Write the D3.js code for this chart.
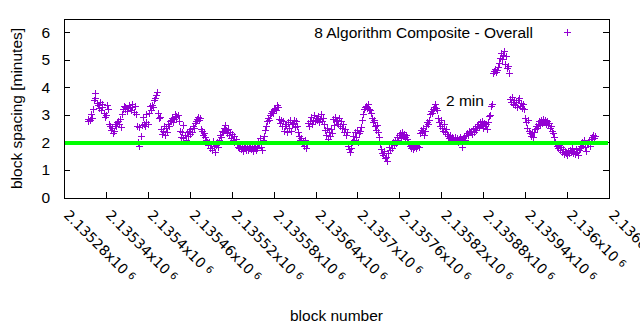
<!DOCTYPE html>
<html>
<head>
<meta charset="utf-8">
<script src="https://cdn.jsdelivr.net/npm/d3@7"></script>
<style>
  body { margin: 0; background: #fff; }
  svg text { font-family: "Liberation Sans", Arial, sans-serif; fill: #000; }
  .xlab { font-family: "DejaVu Sans", sans-serif; font-size: 14px; }
</style>
</head>
<body>
<svg id="chart" width="640" height="330"></svg>
<script>
// block spacing (minutes), one sample per step from firstBlock to lastBlock
const firstBlock = 2135314;
const lastBlock = 2136040;
const spacing = [
  2.80, 2.88, 2.84, 3.05, 2.92, 3.25, 3.55, 3.80, 3.62, 3.45,
  3.38, 3.28, 3.50, 3.20, 3.30, 3.42, 3.10, 2.95, 3.00, 3.36,
  3.25, 2.70, 2.62, 2.48, 2.55, 2.35, 2.45, 2.70, 2.62, 2.75,
  2.80, 2.68, 2.88, 2.58, 3.05, 3.25, 3.35, 3.30, 3.22, 3.15,
  3.28, 3.38, 3.32, 3.20, 3.40, 3.30, 3.12, 3.35, 3.05, 2.60,
  2.05, 1.88, 2.58, 2.25, 2.65, 2.95, 2.70, 2.62, 2.75, 3.05,
  2.68, 3.10, 3.35, 3.20, 3.38, 3.30, 3.55, 3.62, 3.75, 3.85,
  3.08, 2.90, 2.95, 2.52, 2.32, 2.45, 2.62, 2.30, 2.55, 2.40,
  2.70, 2.60, 2.80, 2.85, 2.92, 2.76, 2.88, 3.05, 2.95, 2.98,
  3.02, 2.80, 2.45, 2.22, 2.40, 2.65, 2.18, 2.30, 2.10, 2.38,
  2.25, 2.45, 2.32, 2.50, 2.40, 2.62, 2.55, 2.72, 2.80, 2.88,
  2.95, 2.82, 2.90, 2.50, 2.42, 2.28, 2.35, 2.20, 2.12, 2.02,
  1.92, 2.05, 1.82, 1.95, 1.75, 2.08, 1.88, 1.66, 1.92, 2.05,
  1.85, 2.12, 2.28, 2.20, 2.45, 2.38, 2.55, 2.65, 2.48, 2.35,
  2.52, 2.28, 2.40, 2.18, 2.32, 2.12, 2.25, 2.05, 2.15, 1.95,
  1.85, 1.80, 1.90, 1.78, 1.85, 1.72, 1.88, 1.80, 1.76, 1.85,
  1.74, 1.82, 1.90, 1.78, 1.85, 1.70, 1.80, 1.88, 1.75, 1.82,
  2.05, 1.95, 2.18, 1.85, 1.73, 2.12, 2.25, 2.46, 2.62, 2.78,
  2.90, 2.85, 3.00, 3.08, 3.15, 3.10, 3.22, 3.28, 3.20, 3.37,
  3.30, 2.88, 2.72, 2.85, 2.60, 2.78, 2.45, 2.62, 2.70, 2.40,
  2.75, 2.55, 2.82, 2.45, 2.68, 2.72, 2.85, 2.58, 2.78, 2.62,
  2.40, 2.25, 2.10, 2.18, 1.98, 2.05, 1.88, 2.12, 1.82, 1.95,
  2.72, 2.62, 2.80, 2.95, 2.70, 2.85, 3.02, 2.78, 2.90, 2.82,
  2.96, 2.75, 2.88, 3.05, 2.80, 2.92, 2.70, 2.48, 2.30, 2.55,
  2.15, 2.40, 2.25, 2.50, 2.35, 2.88, 2.65, 2.95, 2.78, 2.85,
  2.70, 2.90, 2.62, 2.78, 2.55, 2.68, 2.40, 2.50, 2.28, 2.38,
  1.88, 1.78, 1.68, 1.80, 2.05, 2.25, 2.12, 2.40, 2.20, 2.48,
  2.02, 2.35, 2.45, 2.58, 2.85, 3.05, 3.22, 3.30, 3.35, 3.28,
  3.42, 3.25, 3.18, 3.10, 2.90, 2.75, 2.82, 2.60, 2.48, 2.65,
  2.38, 2.20, 1.95, 1.78, 1.62, 1.55, 1.70, 1.45, 1.50, 1.35,
  1.62, 1.85, 1.75, 1.95, 1.82, 2.05, 1.92, 2.12, 2.00, 2.22,
  2.10, 2.28, 2.35, 2.18, 2.40, 2.25, 2.32, 2.20, 2.30, 2.15,
  2.05, 1.95, 1.88, 1.82, 1.90, 1.78, 1.85, 1.92, 1.80, 1.88,
  1.95, 1.85, 2.35, 2.48, 2.40, 2.55, 2.30, 2.45, 2.62, 2.75,
  2.68, 2.85, 3.05, 3.15, 3.10, 3.25, 3.30, 3.40, 3.28, 3.18,
  2.90, 2.75, 2.62, 2.82, 2.55, 2.45, 2.68, 2.38, 2.50, 2.32,
  2.25, 2.18, 2.28, 2.10, 2.22, 2.15, 2.08, 2.20, 2.12, 2.18,
  2.05, 2.15, 2.22, 2.10, 1.85, 2.18, 2.25, 2.12, 2.30, 2.35,
  2.28, 2.42, 2.38, 2.45, 2.32, 2.50, 2.40, 2.55, 2.48, 2.62,
  2.70, 2.58, 2.75, 2.65, 2.80, 2.55, 2.72, 2.60, 2.68, 2.50,
  2.75, 2.98, 3.02, 3.35, 3.40, 4.55, 4.62, 4.70, 4.58, 4.65,
  4.75, 4.90, 5.10, 5.25, 5.05, 5.20, 5.32, 4.85, 5.15, 4.72,
  4.80, 4.55, 3.60, 3.50, 3.65, 3.42, 3.55, 3.38, 3.48, 3.30,
  3.55, 3.62, 3.35, 3.45, 3.28, 3.40, 3.22, 2.90, 2.75, 2.55,
  2.82, 2.45, 2.35, 2.25, 2.40, 2.20, 2.38, 2.50, 2.62, 2.55,
  2.70, 2.78, 2.65, 2.82, 2.72, 2.88, 2.75, 2.85, 2.70, 2.80,
  2.65, 2.72, 2.55, 2.62, 2.45, 2.35, 2.20, 2.05, 1.95, 1.88,
  1.80, 1.92, 1.75, 1.85, 1.68, 1.78, 1.58, 1.72, 1.65, 1.55,
  1.70, 1.62, 1.75, 1.68, 1.80, 1.65, 1.72, 1.60, 1.78, 1.68,
  1.55, 1.75, 1.82, 1.90, 2.05, 1.95, 2.12, 1.85, 1.72, 1.95,
  2.00, 2.08, 1.88, 2.15, 2.22, 2.28, 2.18, 2.25
];

const xTicks = [2135280, 2135340, 2135400, 2135460, 2135520, 2135580, 2135640,
                2135700, 2135760, 2135820, 2135880, 2135940, 2136000, 2136060];
const xTickLabels = ["2.13528", "2.13534", "2.1354", "2.13546", "2.13552", "2.13558", "2.13564",
                     "2.1357", "2.13576", "2.13582", "2.13588", "2.13594", "2.136", "2.13606"];
const yTicks = [0, 1, 2, 3, 4, 5, 6];
const targetSpacing = 2;   // minutes
const seriesName = "8 Algorithm Composite - Overall";

const purple = "#9400d3";
const green = "#00ff00";

const plot = { left: 64, right: 609, top: 19, bottom: 198 };
const svg = d3.select("#chart");
svg.append("rect").attr("width", 640).attr("height", 330).attr("fill", "#fff");

const x = d3.scaleLinear().domain([xTicks[0], xTicks[xTicks.length - 1]]).range([plot.left, plot.right]);
const y = d3.scaleLinear().domain([0, 6.5]).range([plot.bottom, plot.top]);

const step = (lastBlock - firstBlock) / (spacing.length - 1);
const points = spacing.map((v, i) => ({ block: Math.round(firstBlock + i * step), value: v }));

// '+' marker snapped to the pixel grid
const cross = (px, py, r) => {
  const cx = Math.round(px) + 0.5, cy = Math.round(py) + 0.5;
  return `M${cx - r},${cy}H${cx + r}M${cx},${cy - r}V${cy + r}`;
};

// y axis: inward ticks on both sides
const yLeft = svg.append("g")
  .attr("transform", `translate(${plot.left},-0.5)`)
  .call(d3.axisLeft(y).tickValues(yTicks).tickFormat(d3.format("d"))
    .tickSizeInner(-6).tickSizeOuter(0).tickPadding(14));
yLeft.select(".domain").remove();
yLeft.selectAll("line").attr("stroke", "#000").attr("shape-rendering", "crispEdges");
yLeft.selectAll("text").attr("font-size", 15.5).attr("font-family", "Liberation Sans, Arial, sans-serif");

const yRight = svg.append("g")
  .attr("transform", `translate(${plot.right},-0.5)`)
  .call(d3.axisRight(y).tickValues(yTicks).tickSizeInner(-6).tickSizeOuter(0).tickFormat(""));
yRight.select(".domain").remove();
yRight.selectAll("line").attr("stroke", "#000").attr("shape-rendering", "crispEdges");

// x axis: inward ticks, rotated labels with a superscript exponent
const xAxis = svg.append("g")
  .attr("transform", `translate(0,${plot.bottom})`)
  .call(d3.axisBottom(x).tickValues(xTicks).tickSizeInner(-6).tickSizeOuter(0).tickFormat(""));
xAxis.select(".domain").remove();
xAxis.selectAll("line").attr("stroke", "#000").attr("shape-rendering", "crispEdges");
xAxis.selectAll(".tick text").remove();
xAxis.selectAll(".tick").each(function (d, i) {
  const t = d3.select(this).append("text")
    .attr("class", "xlab")
    .attr("transform", "translate(-1.5,18) rotate(45)")
    .attr("text-anchor", "start");
  t.append("tspan").text(xTickLabels[i] + "x10");
  t.append("tspan").attr("dx", 4).attr("dy", -3).attr("font-size", 10).text("6");
});

// frame
svg.append("rect")
  .attr("x", plot.left + 0.5).attr("y", plot.top + 0.5)
  .attr("width", plot.right - plot.left).attr("height", plot.bottom - plot.top)
  .attr("fill", "none").attr("stroke", "#000").attr("stroke-width", 1)
  .attr("shape-rendering", "crispEdges");

// data points
svg.append("path")
  .attr("d", points.map(p => cross(x(p.block), y(p.value), 3.5)).join(""))
  .attr("fill", "none")
  .attr("stroke", purple)
  .attr("stroke-width", 1)
  .attr("shape-rendering", "crispEdges");

// 2 minute target line
svg.append("line")
  .attr("x1", plot.left + 1).attr("x2", plot.right - 1)
  .attr("y1", Math.round(y(targetSpacing))).attr("y2", Math.round(y(targetSpacing)))
  .attr("stroke", green).attr("stroke-width", 4)
  .attr("shape-rendering", "crispEdges");

svg.append("text")
  .attr("x", 446).attr("y", 106)
  .attr("font-size", 15.5)
  .text(`${targetSpacing} min`);

// key
svg.append("text")
  .attr("x", 533).attr("y", 37.5)
  .attr("text-anchor", "end")
  .attr("font-size", 15.5)
  .text(seriesName);
svg.append("path")
  .attr("d", cross(566.5, 32, 3.5))
  .attr("stroke", purple).attr("stroke-width", 1)
  .attr("shape-rendering", "crispEdges");

// axis titles
svg.append("text")
  .attr("transform", `translate(22,${(plot.top + plot.bottom) / 2}) rotate(-90)`)
  .attr("text-anchor", "middle")
  .attr("font-size", 15.5)
  .text("block spacing [minutes]");
svg.append("text")
  .attr("x", (plot.left + plot.right) / 2).attr("y", 321)
  .attr("text-anchor", "middle")
  .attr("font-size", 15.5)
  .text("block number");
</script>
</body>
</html>
